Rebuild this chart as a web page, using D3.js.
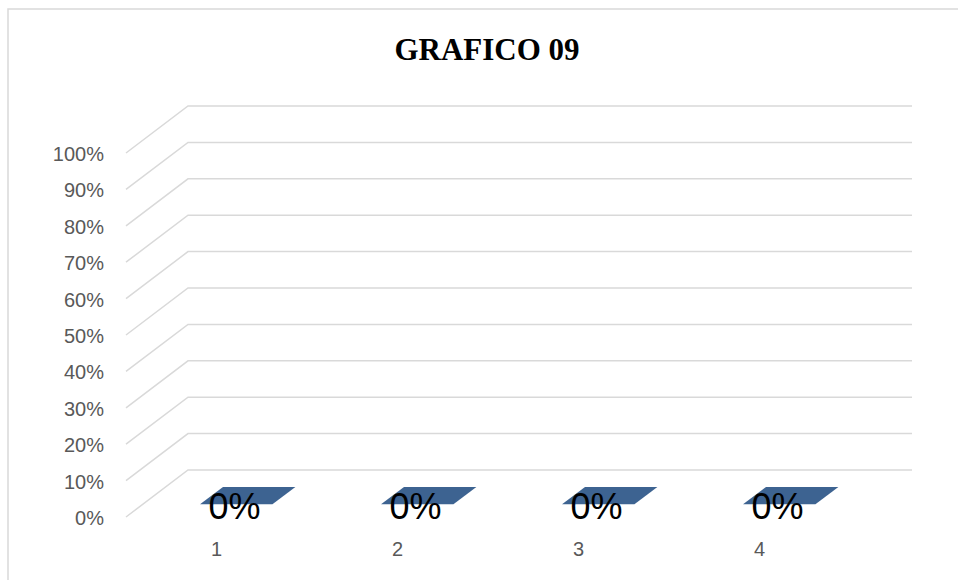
<!DOCTYPE html>
<html>
<head>
<meta charset="utf-8">
<script src="https://cdn.jsdelivr.net/npm/d3@7"></script>
<style>
  body { margin: 0; background: #fff; }
</style>
</head>
<body>
<svg width="958" height="580"></svg>
<script>
// data
let categories = ["1", "2", "3", "4"];
let values = [0, 0, 0, 0];
let yTicks = [0, 0.1, 0.2, 0.3, 0.4, 0.5, 0.6, 0.7, 0.8, 0.9, 1.0];

let svg = d3.select("svg");

// chart frame
svg.append("rect")
    .attr("x", 8).attr("y", 9)
    .attr("width", 960).attr("height", 590)
    .attr("fill", "#fff")
    .attr("stroke", "#d9d9d9")
    .attr("stroke-width", 1.5);

svg.append("text")
    .attr("x", 487).attr("y", 60)
    .attr("text-anchor", "middle")
    .attr("font-family", "Liberation Serif, Times New Roman, serif")
    .attr("font-weight", "bold")
    .attr("font-size", 31)
    .attr("fill", "#000")
    .text("GRAFICO 09");

// 3d depth offset (front plane -> back wall)
let depth = { dx: 62, dy: -47 };

let x = d3.scaleBand()
    .domain(categories)
    .range([126, 850]);

let y = d3.scaleLinear()
    .domain([0, 1])
    .range([517, 153]);

// gridlines: diagonal on the side, then straight along the back wall
let grid = svg.append("g").attr("class", "grid");
grid.selectAll("path")
    .data(yTicks)
    .enter().append("path")
    .attr("d", function(d) {
        let x0 = x.range()[0], y0 = y(d);
        return "M" + x0 + "," + y0 +
               "L" + (x0 + depth.dx) + "," + (y0 + depth.dy) +
               "L" + (x.range()[1] + depth.dx) + "," + (y0 + depth.dy);
    })
    .attr("fill", "none")
    .attr("stroke", "#d9d9d9")
    .attr("stroke-width", 1.5);

// y tick labels
svg.append("g")
    .selectAll("text")
    .data(yTicks)
    .enter().append("text")
    .attr("x", 104)
    .attr("y", function(d) { return y(d) + 8; })
    .attr("text-anchor", "end")
    .attr("font-family", "Liberation Sans, Arial, sans-serif")
    .attr("font-size", 20)
    .attr("fill", "#595959")
    .text(function(d) { return d3.format(".0%")(d); });

// category labels
svg.append("g")
    .selectAll("text")
    .data(categories)
    .enter().append("text")
    .attr("x", function(d) { return x(d) + x.bandwidth() / 2; })
    .attr("y", 556)
    .attr("text-anchor", "middle")
    .attr("font-family", "Liberation Sans, Arial, sans-serif")
    .attr("font-size", 20)
    .attr("fill", "#595959")
    .text(function(d) { return d; });

// bars (zero height -> only the top face shows)
let barW = x.bandwidth() * 0.4;
let d0 = 0.27, d1 = 0.64;   // front / back depth of the bar

function barTop(d, i) {
    let cx = x(categories[i]) + x.bandwidth() / 2 + 3;
    let yv = y(d);
    let fx = cx + d0 * depth.dx, fy = yv + d0 * depth.dy;
    let bx = cx + d1 * depth.dx, by = yv + d1 * depth.dy;
    return [
        [fx - barW / 2, fy], [fx + barW / 2, fy],
        [bx + barW / 2, by], [bx - barW / 2, by]
    ];
}

let bars = svg.append("g").attr("class", "bars");
bars.selectAll("path")
    .data(values)
    .enter().append("path")
    .attr("d", function(d, i) { return "M" + barTop(d, i).join("L") + "Z"; })
    .attr("fill", "#3d6391");

// data labels
svg.append("g")
    .selectAll("text")
    .data(values)
    .enter().append("text")
    .attr("x", function(d, i) { return x(categories[i]) + x.bandwidth() / 2 + 18; })
    .attr("y", function(d) { return y(d) + 2; })
    .attr("text-anchor", "middle")
    .attr("font-family", "Liberation Sans, Arial, sans-serif")
    .attr("font-size", 36)
    .attr("fill", "#000")
    .text(function(d) { return d3.format(".0%")(d); });
</script>
</body>
</html>
